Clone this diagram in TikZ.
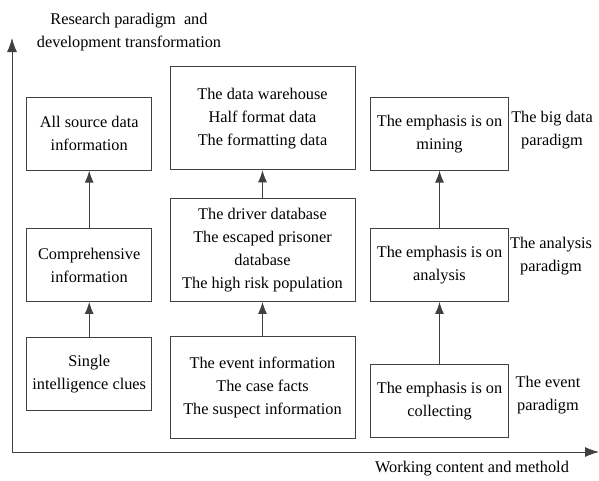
\documentclass[tikz,border=0pt]{standalone}
\usepackage{fontspec}
\setmainfont{Liberation Serif}
\usetikzlibrary{arrows.meta}
\begin{document}
\begin{tikzpicture}[x=1pt, y=-1pt,
    line width=0.9pt,
    box/.style={draw=black!75, rectangle, align=center, inner sep=2pt,
        font=\fontsize{16.3}{23}\selectfont},
    lbl/.style={align=center, inner sep=0pt, font=\fontsize{16.3}{23}\selectfont},
    up/.style={draw=black!75, -{Latex[length=12pt,width=9pt]}},
    axis/.style={draw=black!75, -{Latex[length=14pt,width=10pt]}}]
    \useasboundingbox (0,0) rectangle (599,480);

    % axes
    \coordinate (origin) at (12,452);
    \coordinate (ytop) at (12,38);
    \coordinate (xend) at (599,452);
    \draw[axis] (origin) -- (ytop);
    \draw[axis] (origin) -- (xend);
    \node[lbl] (ylabel) at (129,32) {Research paradigm\ \ and\\development transformation};
    \node[lbl] (xlabel) at (472,469) {Working content and methold};

    % first column
    \node[box, minimum width=125pt, minimum height=73pt] (single) at (89.2,374.2) {Single\\intelligence clues};
    \node[box, minimum width=125pt, minimum height=73pt] (compr) at (89.2,265) {Comprehensive\\information};
    \node[box, minimum width=125pt, minimum height=73pt] (allsrc) at (89.2,133.7) {All source data\\information};

    % second column
    \node[box, minimum width=185pt, minimum height=102pt] (event) at (262.5,387.5) {The event information\\The case facts\\The suspect information};
    \node[box, minimum width=185pt, minimum height=103pt] (driver) at (262.5,250) {The driver database\\The escaped prisoner\\database\\The high risk population};
    \node[box, minimum width=185pt, minimum height=103pt] (wareh) at (262.5,118.3) {The data warehouse\\Half format data\\The formatting data};

    % third column
    \node[box, minimum width=137.6pt, minimum height=73pt] (collect) at (439.5,400.7) {The emphasis is on\\collecting};
    \node[box, minimum width=137.6pt, minimum height=73pt] (analysis) at (439.5,265) {The emphasis is on\\analysis};
    \node[box, minimum width=137.6pt, minimum height=73pt] (mining) at (439.5,133.7) {The emphasis is on\\mining};

    % paradigms
    \node[lbl] (bigdata) at (552,130) {The big data\\paradigm};
    \node[lbl] (anapar) at (551,256) {The analysis\\paradigm};
    \node[lbl] (evpar) at (548,395) {The event\\paradigm};

    \draw[up] (single) -- (compr);
    \draw[up] (compr) -- (allsrc);
    \draw[up] (event) -- (driver);
    \draw[up] (driver) -- (wareh);
    \draw[up] (collect) -- (analysis);
    \draw[up] (analysis) -- (mining);
\end{tikzpicture}
\end{document}
